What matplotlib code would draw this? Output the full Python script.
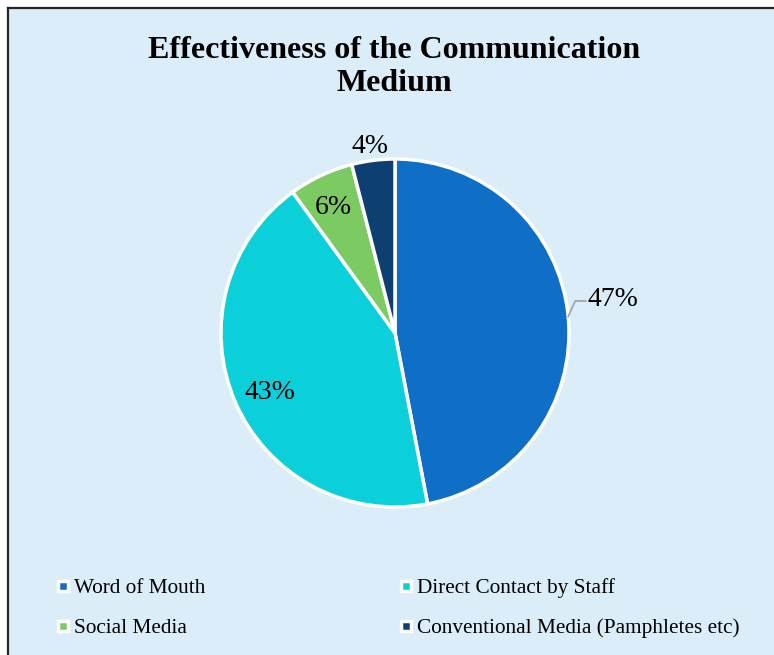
import matplotlib
matplotlib.use("Agg")
import matplotlib.pyplot as plt
from matplotlib.lines import Line2D
from matplotlib.patches import Rectangle
import numpy as np

categories = ["Word of Mouth", "Direct Contact by Staff", "Social Media",
              "Conventional Media (Pamphletes etc)"]
values = [47, 43, 6, 4]
colors = ["#0F6FC6", "#0BCFD9", "#7CCA62", "#0D3F72"]
title = "Effectiveness of the Communication\nMedium"

BG = "#DAEDF8"
plt.rcParams["font.family"] = ["Liberation Serif", "DejaVu Serif"]

W, H = 774, 655
fig = plt.figure(figsize=(W / 100, H / 100), dpi=100)
fig.patch.set_facecolor("white")

# chart area background with border (left + top)
fig.add_artist(Rectangle((8 / W, 0), 1, (H - 8) / H, transform=fig.transFigure,
                         facecolor=BG, edgecolor="none", zorder=0))
fig.add_artist(Line2D([8 / W, 8 / W], [0, (H - 7.5) / H], transform=fig.transFigure,
                      color="#262626", lw=1.6, zorder=1))
fig.add_artist(Line2D([8 / W, 1], [(H - 7.5) / H, (H - 7.5) / H], transform=fig.transFigure,
                      color="#262626", lw=1.6, zorder=1))

fig.text(394 / W, 1 - 67 / H, title, ha="center", va="center", fontsize=23,
         fontweight="bold", linespacing=1.2)

# pie axes: center (395, 333) px, radius 174 px
R = 174
half = 1.2 * R
cx, cy = 395, H - 333
ax = fig.add_axes([(cx - half) / W, (cy - half) / H, 2 * half / W, 2 * half / H])

wedges, _ = ax.pie(values, colors=colors, startangle=90, counterclock=False,
                   radius=1.0, wedgeprops=dict(edgecolor="white", linewidth=2.5))
ax.set_xlim(-1.2, 1.2)
ax.set_ylim(-1.2, 1.2)
ax.set_aspect("equal")
ax.axis("off")

total = sum(values)
label_r = [1.27, 0.79, 0.82, 1.10]
angle_shift = [4.0, 1.0, 0.6, 0.3]
for w, v, lr, sh in zip(wedges, values, label_r, angle_shift):
    mid = (w.theta1 + w.theta2) / 2 + sh
    x, y = lr * np.cos(np.radians(mid)), lr * np.sin(np.radians(mid))
    ax.text(x, y, f"{round(100 * v / total)}%", ha="center", va="center_baseline",
            fontsize=20)

# leader line for the first slice
w0 = wedges[0]
m0 = np.radians((w0.theta1 + w0.theta2) / 2)
p_edge = (np.cos(m0), np.sin(m0))
ax.plot([p_edge[0], p_edge[0] + 0.04, p_edge[0] + 0.10],
        [p_edge[1], p_edge[1] + 0.09, p_edge[1] + 0.09],
        color="#A6A6A6", lw=1.3, clip_on=False)

# legend
def handle(c):
    return Line2D([], [], marker="s", linestyle="none", markersize=7,
                  markerfacecolor=c, markeredgecolor="white", markeredgewidth=2.5)

col1 = [0, 2]
col2 = [1, 3]
for cols, x0 in ((col1, 48), (col2, 391)):
    leg = fig.legend([handle(colors[i]) for i in cols], [categories[i] for i in cols],
                     loc="upper left", bbox_to_anchor=(x0 / W, 1 - 570 / H),
                     frameon=False, fontsize=15.3, handlelength=0.6, handletextpad=0.2,
                     labelspacing=0.95, borderaxespad=0)

fig.savefig("out.png", dpi=100, facecolor="white")
